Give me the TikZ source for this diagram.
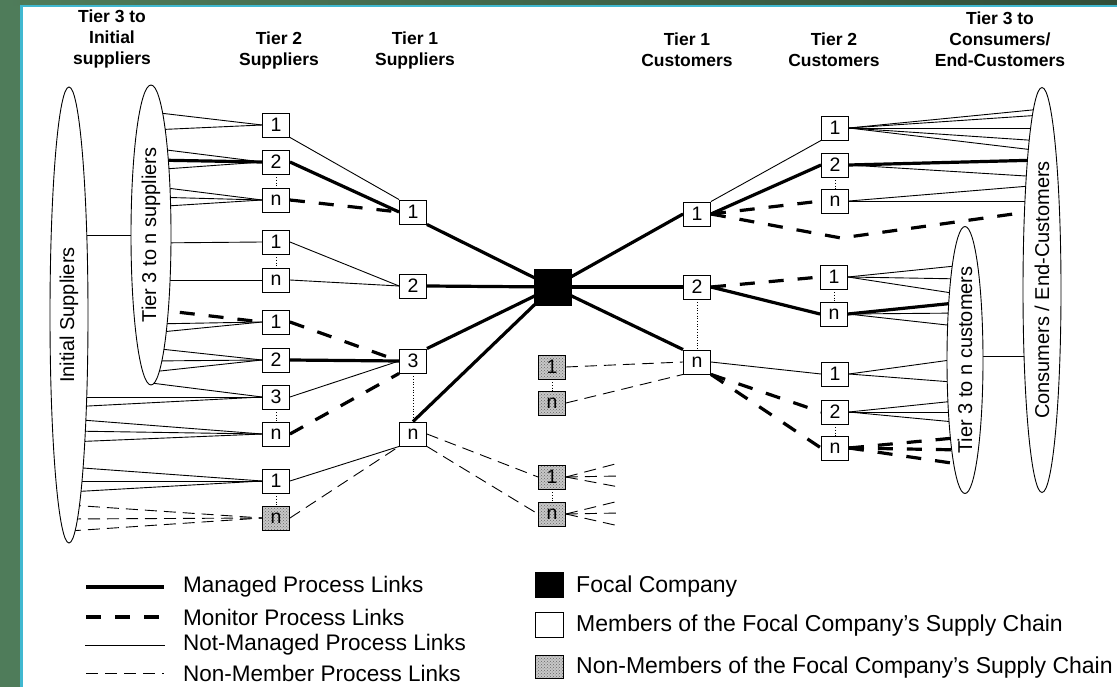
\documentclass[tikz,border=0pt]{standalone}
\usepackage{fontspec}
\setmainfont{Liberation Sans}
\usetikzlibrary{shapes.geometric,calc,patterns}
\pgfdeclarelayer{bottom}
\pgfdeclarelayer{links}
\pgfsetlayers{bottom,links,main}
\definecolor{frgreen}{RGB}{79,124,90}
\definecolor{frgreendark}{RGB}{50,78,56}
\definecolor{frcyan}{RGB}{64,184,208}
\tikzset{
  thinl/.style={line width=0.9pt},
  thickl/.style={line width=3.2pt},
  mondash/.style={line width=3.2pt, dash pattern=on 15pt off 14pt},
  nondash/.style={line width=0.9pt, dash pattern=on 12pt off 7pt},
  dotl/.style={line width=0.7pt, dotted},
  mbox/.style={draw, fill=white, line width=0.9pt, minimum width=27pt, minimum height=24pt, inner sep=0pt, font=\fontsize{19.5}{19.5}\selectfont},
  gbox/.style={mbox, preaction={fill=black!22}, pattern=crosshatch dots, pattern color=black!60},
  ell/.style={draw, ellipse, fill=white, line width=0.9pt, inner sep=0pt, rotate=90, font=\fontsize{20}{20}\selectfont},
  hdr/.style={align=center, inner sep=0pt, font=\bfseries\fontsize{17.5}{21}\selectfont},
  leg/.style={anchor=west, inner sep=0pt, font=\fontsize{22.5}{22.5}\selectfont},
  legr/.style={leg, font=\fontsize{23}{23}\selectfont},
  sq/.style={draw, line width=0.9pt, minimum width=28pt, minimum height=25pt, inner sep=0pt},
}
\begin{document}
\begin{tikzpicture}[x=1pt,y=-1pt]
\begin{pgfonlayer}{bottom}
  \fill[white] (0,0) rectangle (1117,687);
  \useasboundingbox (0,0) rectangle (1117,687);
  \fill[frgreen] (0,0) rectangle (19.5,687);
  \shade[left color=frgreen, right color=frgreendark] (0,0) rectangle (1117,5.5);
  \fill[frcyan] (19.5,5.5) rectangle (22.5,687);
  \fill[frcyan] (19.5,5.5) rectangle (1117,7.5);
\end{pgfonlayer}

% headers
\node[hdr] (h1) at (112,39) {Tier 3 to\\Initial\\suppliers};
\node[hdr] (h2) at (279,50) {Tier 2\\Suppliers};
\node[hdr] (h3) at (415,50) {Tier 1\\Suppliers};
\node[hdr] (h4) at (687,50) {Tier 1\\Customers};
\node[hdr] (h5) at (834,50) {Tier 2\\Customers};
\node[hdr] (h6) at (1000,39) {Tier 3 to\\Consumers/\\End-Customers};

% ellipses
\node[ell, minimum width=456pt, minimum height=38pt] (E1) at (69,315) {Initial Suppliers};
\node[ell, minimum width=300pt, minimum height=40pt] (E2) at (151,235) {Tier 3 to n suppliers};
\node[ell, minimum width=267pt, minimum height=36pt] (E3) at (965,360) {Tier 3 to n customers};
\node[ell, minimum width=405pt, minimum height=38pt] (E4) at (1042,290) {Consumers / End-Customers};

% tier 2 suppliers
\node[mbox] (A1) at (276,125) {1};
\node[mbox] (A2) at (276,162) {2};
\node[mbox] (An) at (276,200) {n};
\node[mbox] (B1) at (276,242) {1};
\node[mbox] (Bn) at (276,280) {n};
\node[mbox] (C1) at (276,322) {1};
\node[mbox] (C2) at (276,360) {2};
\node[mbox] (C3) at (276,397) {3};
\node[mbox] (Cn) at (276,434) {n};
\node[mbox] (D1) at (276,481) {1};
\node[gbox] (Dn) at (276,518) {n};
% tier 1 suppliers
\node[mbox] (S1) at (413,212) {1};
\node[mbox] (S2) at (413,286) {2};
\node[mbox] (S3) at (413,361) {3};
\node[mbox] (Sn) at (413,434) {n};
% focal
\node[draw, fill=black, minimum width=37pt, minimum height=36pt, inner sep=0pt] (F) at (553,287) {};
% tier 1 customers
\node[mbox] (K1) at (697,214) {1};
\node[mbox] (K2) at (697,287) {2};
\node[mbox] (Kn) at (697,362) {n};
% non-members middle
\node[gbox] (G1) at (552,367) {1};
\node[gbox] (G2) at (552,403) {n};
\node[gbox] (G3) at (552,477) {1};
\node[gbox] (G4) at (552,514) {n};
% tier 2 customers
\node[mbox] (P1) at (835,128) {1};
\node[mbox] (P2) at (835,165) {2};
\node[mbox] (Pn) at (835,201) {n};
\node[mbox] (Q1) at (834,277) {1};
\node[mbox] (Qn) at (834,314) {n};
\node[mbox] (R1) at (835,374) {1};
\node[mbox] (R2) at (835,412) {2};
\node[mbox] (Rn) at (835,448) {n};

\coordinate (v) at (841,238);
\coordinate (g3a) at (619,463);
\coordinate (g3b) at (619,476);
\coordinate (g3c) at (619,487);
\coordinate (g4a) at (619,501);
\coordinate (g4b) at (619,513);
\coordinate (g4c) at (619,526);

\begin{pgfonlayer}{links}
  % ellipse connectors
  \draw[thinl] (E1.center |- E2.center) -- (E2.center);
  \draw[thinl] (E3.center |- 0,356) -- (E4.center |- 0,356);
  % tier3 -> tier2 suppliers
  \foreach \yy in {112,130} \draw[thinl] (E2.center |- 0,\yy) -- (A1.west);
  \foreach \yy in {148,170} \draw[thinl] (E2.center |- 0,\yy) -- (A2.west);
  \draw[thickl] (E2.center |- 0,160) -- (A2.west);
  \foreach \yy in {186,197,207} \draw[thinl] (E2.center |- 0,\yy) -- (An.west);
  \draw[thinl] (E2.center |- 0,243) -- (B1.west);
  \draw[thinl] (E2.center |- 0,280) -- (Bn.west);
  \draw[mondash] (E2.center |- 0,309) -- (C1.west);
  \foreach \yy in {324,333} \draw[thinl] (E2.center |- 0,\yy) -- (C1.west);
  \foreach \yy in {348,361,372} \draw[thinl] (E2.center |- 0,\yy) -- (C2.west);
  \draw[thinl] (E2.center |- 0,383) -- (C3.west);
  \foreach \yy in {397,407} \draw[thinl] (E1.center |- 0,\yy) -- (C3.west);
  \foreach \yy in {419,431,442} \draw[thinl] (E1.center |- 0,\yy) -- (Cn.west);
  \foreach \yy in {467,481,492} \draw[thinl] (E1.center |- 0,\yy) -- (D1.west);
  \foreach \yy in {505,519,531} \draw[nondash] (E1.center |- 0,\yy) -- (Dn.west);
  % tier2 -> tier1 suppliers
  \draw[thinl] (A1.south east) -- (S1.north west);
  \draw[thickl] (A2.east) -- (S1.west);
  \draw[mondash] (An.east) -- (S1.west);
  \draw[thinl] (B1.east) -- (S2.west);
  \draw[thinl] (Bn.east) -- (S2.west);
  \draw[mondash] (C1.east) -- (S3.west);
  \draw[thickl] (C2.east) -- (S3.west);
  \draw[thinl] (C3.east) -- (S3.west);
  \draw[mondash] (Cn.east) -- (S3.south west);
  \draw[thinl] (D1.east) -- (Sn.south west);
  \draw[nondash] (Dn.east) -- (Sn.south west);
  % tier1 suppliers -> focal
  \draw[thickl] (S1.south east) -- (F.center);
  \draw[thickl] (S2.east) -- (F.center);
  \draw[thickl] (S3.north east) -- (F.center);
  \draw[thickl] (Sn.north) -- (F.center);
  % non-members middle
  \draw[nondash] (Sn.east) -- (G3.west);
  \draw[nondash] (Sn.south east) -- (G4.west);
  \foreach \cc in {g3a,g3b,g3c} \draw[nondash] (G3.east) -- (\cc);
  \foreach \cc in {g4a,g4b,g4c} \draw[nondash] (G4.east) -- (\cc);
  \draw[nondash] (G1.east) -- (Kn.west);
  \draw[nondash] (G2.east) -- (Kn.south west);
  % focal -> tier1 customers
  \draw[thickl] (F.center) -- (K1.west);
  \draw[thickl] (F.center) -- (K2.west);
  \draw[thickl] (F.center) -- (Kn.north west);
  % tier1 -> tier2 customers
  \draw[thinl] (K1.north east) -- (P1.south west);
  \draw[thickl] (K1.east) -- (P2.west);
  \draw[mondash] (K1.east) -- (Pn.west);
  \draw[mondash] (K1.east) -- (v) -- (E4.center |- 0,210);
  \draw[mondash] (K2.east) -- (Q1.west);
  \draw[thickl] (K2.east) -- (Qn.west);
  \draw[thinl] (Kn.east) -- (R1.west);
  \draw[mondash] (Kn.south east) -- (R2.west);
  \draw[mondash] (Kn.south east) -- (Rn.west);
  % tier2 customers -> consumers
  \foreach \yy in {109,115,128,141,151} \draw[thinl] (P1.east) -- (E4.center |- 0,\yy);
  \draw[thickl] (P2.east) -- (E4.center |- 0,160);
  \draw[thinl] (P2.east) -- (E4.center |- 0,177);
  \foreach \yy in {185,201} \draw[thinl] (Pn.east) -- (E4.center |- 0,\yy);
  \foreach \yy in {265,279,295} \draw[thinl] (Q1.east) -- (E3.center |- 0,\yy);
  \draw[thickl] (Qn.east) -- (E3.center |- 0,302);
  \foreach \yy in {313,327} \draw[thinl] (Qn.east) -- (E3.center |- 0,\yy);
  \foreach \yy in {358,383} \draw[thinl] (R1.east) -- (E3.center |- 0,\yy);
  \foreach \yy in {400,412,423} \draw[thinl] (R2.east) -- (E3.center |- 0,\yy);
  \foreach \yy in {437,450,465} \draw[mondash] (Rn.east) -- (E3.center |- 0,\yy);
  % dotted group links
  \draw[dotl] (A2.south) -- (An.north);
  \draw[dotl] (B1.south) -- (Bn.north);
  \draw[dotl] (C3.south) -- (Cn.north);
  \draw[dotl] (D1.south) -- (Dn.north);
  \draw[dotl] (S3.south) -- (Sn.north);
  \draw[dotl] (K2.south) -- (Kn.north);
  \draw[dotl] (G1.south) -- (G2.north);
  \draw[dotl] (G3.south) -- (G4.north);
  \draw[dotl] (P2.south) -- (Pn.north);
  \draw[dotl] (Q1.south) -- (Qn.north);
  \draw[dotl] (R2.south) -- (Rn.north);
\end{pgfonlayer}

% legend
\coordinate (l1a) at (86,587); \coordinate (l1b) at (164,587);
\coordinate (l2a) at (86,617); \coordinate (l2b) at (164,617);
\coordinate (l3a) at (85,645); \coordinate (l3b) at (165,645);
\coordinate (l4a) at (86,673); \coordinate (l4b) at (164,673);
\draw[thickl] (l1a) -- (l1b);
\draw[mondash] (l2a) -- (l2b);
\draw[thinl] (l3a) -- (l3b);
\draw[nondash] (l4a) -- (l4b);
\node[leg] (t1) at (183,587) {Managed Process Links};
\node[leg] (t2) at (183,617) {Monitor Process Links};
\node[leg] (t3) at (183,645) {Not-Managed Process Links};
\node[leg] (t4) at (183,673) {Non-Member Process Links};
\node[sq, fill=black] (q1) at (549,585) {};
\node[sq, fill=white] (q2) at (549,625) {};
\node[sq, preaction={fill=black!22}, pattern=crosshatch dots, pattern color=black!60, minimum height=23pt] (q3) at (549,667) {};
\node[legr] (t5) at (576,587) {Focal Company};
\node[legr] (t6) at (576,626) {Members of the Focal Company’s Supply Chain};
\node[legr] (t7) at (576,668) {Non-Members of the Focal Company’s Supply Chain};
\end{tikzpicture}
\end{document}
